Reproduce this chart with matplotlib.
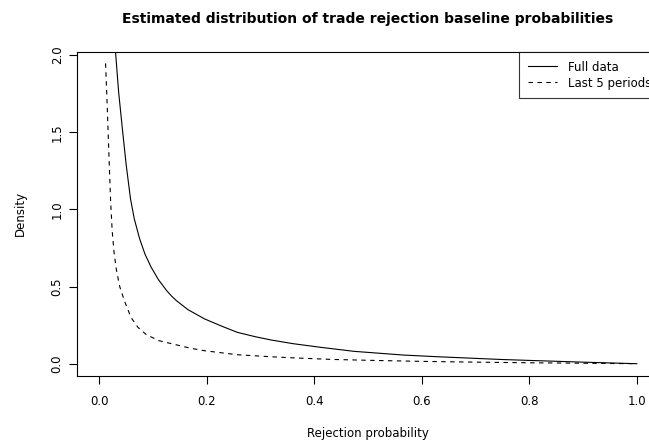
import matplotlib
matplotlib.use("Agg")
import matplotlib.pyplot as plt

plt.rcParams['font.family'] = ['DejaVu Sans']

# Data
full_x = [0.025, 0.030, 0.036, 0.043, 0.050, 0.058, 0.065, 0.075, 0.085, 0.0965,
          0.11, 0.125, 0.134, 0.143, 0.165, 0.196, 0.23, 0.257, 0.29, 0.319,
          0.36, 0.412, 0.474, 0.52, 0.566, 0.63, 0.69, 0.75, 0.82, 0.9, 0.95, 1.0]
full_y = [2.35, 2.03, 1.76, 1.52, 1.29, 1.07, 0.94, 0.81, 0.71, 0.625,
          0.545, 0.475, 0.44, 0.41, 0.35, 0.29, 0.24, 0.203, 0.175, 0.154,
          0.13, 0.106, 0.080, 0.068, 0.056, 0.045, 0.036, 0.027, 0.019, 0.010, 0.005, 0.0]

last5_x = [0.0117, 0.014, 0.016, 0.0185, 0.021, 0.024, 0.0275, 0.0315, 0.038, 0.047,
           0.059, 0.072, 0.087, 0.11, 0.14, 0.17, 0.196, 0.257, 0.319, 0.36,
           0.43, 0.5, 0.6, 0.7, 0.8, 0.9, 1.0]
last5_y = [1.946, 1.74, 1.545, 1.30, 1.06, 0.86, 0.72, 0.615, 0.50, 0.405,
           0.30, 0.235, 0.19, 0.15, 0.125, 0.10, 0.084, 0.058, 0.045, 0.038,
           0.028, 0.022, 0.015, 0.010, 0.006, 0.003, 0.0]

x_ticks = [0.0, 0.2, 0.4, 0.6, 0.8, 1.0]
y_ticks = [0.0, 0.5, 1.0, 1.5, 2.0]
series_labels = ["Full data", "Last 5 periods"]

W, H = 649, 441
fig = plt.figure(figsize=(W / 100, H / 100), dpi=100)
left, right, bottom, top = 77.3, 658.8, 375.7, 51.7
ax = fig.add_axes([left / W, (H - bottom) / H, (right - left) / W, (bottom - top) / H])

ax.plot(full_x, full_y, color='black', lw=0.8, label=series_labels[0])
ax.plot(last5_x, last5_y, color='black', lw=0.8, linestyle=(0, (4, 4)), label=series_labels[1])

ax.set_xlim(-0.0409, 1.0409)
ax.set_ylim(-0.0778, 2.0218)
ax.set_xticks(x_ticks)
ax.set_yticks(y_ticks)
ax.set_xticklabels([f"{v:.1f}" for v in x_ticks])
ax.set_yticklabels([f"{v:.1f}" for v in y_ticks], rotation=90, va='center')

for s in ax.spines.values():
    s.set_linewidth(0.8)
    s.set_color('black')
ax.tick_params(direction='out', length=5.8, width=0.8, colors='black',
               labelsize=8.5, pad=4)
ax.tick_params(axis='x', pad=8)

ax.set_xlabel("Rejection probability", fontsize=8.5, labelpad=14)
ax.set_ylabel("Density", fontsize=8.5, labelpad=17)

fig.text((left + right) / 2 / W, 1 - 19.5 / H,
         "Estimated distribution of trade rejection baseline probabilities",
         ha='center', va='center', fontsize=10, fontweight='bold')

leg = ax.legend(loc='upper left', bbox_to_anchor=(519 / W, 1 - 51.7 / H),
                bbox_transform=fig.transFigure, borderaxespad=0,
                frameon=True, fancybox=False, edgecolor='black',
                fontsize=8.5, handlelength=2.5, handletextpad=0.9,
                borderpad=0.75, labelspacing=0.25)
leg.get_frame().set_linewidth(0.8)

fig.savefig("out.png", dpi=100)
